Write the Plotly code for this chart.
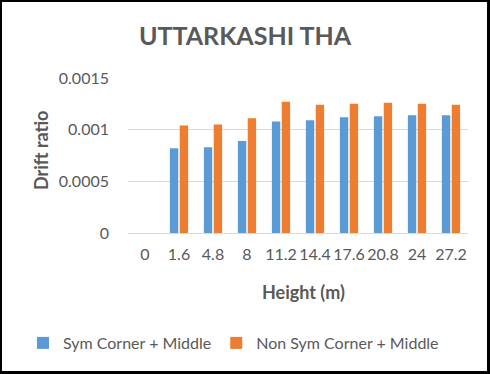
import plotly.graph_objects as go

categories = ["0", "1.6", "4.8", "8", "11.2", "14.4", "17.6", "20.8", "24", "27.2"]
sym_values = [0, 0.00082, 0.00083, 0.00089, 0.00108, 0.00109, 0.00112, 0.00113, 0.00114, 0.00114]
nonsym_values = [0, 0.00104, 0.00105, 0.00111, 0.00127, 0.00124, 0.00125, 0.00126, 0.00125, 0.00124]
y_tick_vals = [0, 0.0005, 0.001, 0.0015]
y_tick_text = ["0", "0.0005", "0.001", "0.0015"]

FONT = "Lato"
GREY = "#595959"

W, H = 490, 374
L, R, T, B = 128, 22, 78, 141
PW, PH = W - L - R, H - T - B


def px_x(p):
    return (p - L) / PW


def px_y(p):
    return (H - B - p) / PH


fig = go.Figure()
fig.add_trace(go.Bar(x=categories, y=sym_values, name="Sym Corner + Middle",
                     marker=dict(color="#5B9BD5", line=dict(width=0))))
fig.add_trace(go.Bar(x=categories, y=nonsym_values, name="Non Sym Corner + Middle",
                     marker=dict(color="#ED7D31", line=dict(width=0))))

shapes = []
for x0, y0, x1, y1 in [(0, 0, 2, H), (0, 0, W, 2), (W - 3, 0, W, H), (0, H - 3, W, H)]:
    shapes.append(dict(type="rect", xref="paper", yref="paper",
                       x0=px_x(x0), x1=px_x(x1), y0=px_y(y1), y1=px_y(y0),
                       fillcolor="black", line=dict(width=0), layer="above"))

fig.update_layout(
    width=W, height=H,
    margin=dict(l=L, r=R, t=T, b=B, autoexpand=False),
    paper_bgcolor="white", plot_bgcolor="white",
    font=dict(family=FONT, color=GREY, size=16),
    barmode="group", bargap=0.42, bargroupgap=0.15,
    title=dict(text="<b>UTTARKASHI THA</b>", font=dict(family=FONT, size=25, color=GREY),
               x=0.5, xref="container", xanchor="center",
               y=1 - 36 / H, yref="container", yanchor="middle"),
    xaxis=dict(type="category", showgrid=False, showline=False, ticks="",
               tickfont=dict(size=16, color=GREY), ticklabelstandoff=10),
    yaxis=dict(range=[0, 0.0015], tickvals=y_tick_vals, ticktext=y_tick_text,
               showgrid=True, gridcolor="#D9D9D9", gridwidth=1,
               zeroline=True, zerolinecolor="#D9D9D9", zerolinewidth=1,
               showline=False, ticks="", tickfont=dict(size=16, color=GREY),
               ticklabelstandoff=18),
    legend=dict(orientation="h", xref="paper", yref="paper",
                x=px_x(23), xanchor="left", y=px_y(343), yanchor="middle",
                font=dict(size=16, color=GREY), itemwidth=30),
    annotations=[
        dict(text="<b>Height (m)</b>", xref="paper", yref="paper",
             x=px_x(303), y=px_y(292), xanchor="center", yanchor="middle",
             showarrow=False, font=dict(size=18, color=GREY)),
        dict(text="<b>Drift ratio</b>", xref="paper", yref="paper",
             x=px_x(41), y=px_y(151), xanchor="center", yanchor="middle",
             textangle=-90, showarrow=False, font=dict(size=18, color=GREY)),
    ],
    shapes=shapes,
)

fig.write_html("out.html", config={"displayModeBar": False},
               post_script="document.body.style.margin='0';document.body.style.overflow='hidden';")
